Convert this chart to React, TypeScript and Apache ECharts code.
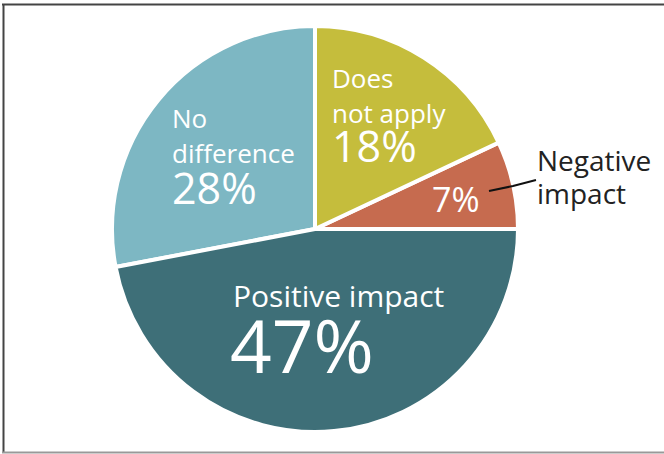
import React, { useEffect, useRef } from "react";
import * as echarts from "echarts";

const categories = ["Negative impact", "Does not apply", "No difference", "Positive impact"];
const values = [7, 18, 28, 47];
const colors = ["#c66b4f", "#c5bd3c", "#7db7c3", "#3e6f78"];
const nameLabels = ["", "Does\nnot apply", "No\ndifference", "Positive impact"];
const pctLabels = ["7%", "18%", "28%", "47%"];

const FONT = "'Open Sans', 'Noto Sans', sans-serif";

export default function App() {
  const ref = useRef<HTMLDivElement>(null);
  useEffect(() => {
    if (!ref.current) return;
    const chart = echarts.init(ref.current, undefined, { renderer: "svg" });
    const namePos: any[] = [
      { x: 432, y: 150 },
      { x: 332, y: 60 },
      { x: 172, y: 100 },
      { x: 233, y: 276 },
    ];
    const pctPos: any[] = [
      { x: 432, y: 182 },
      { x: 332, y: 124 },
      { x: 172, y: 166 },
      { x: 230, y: 308 },
    ];
    const pctSize = [34, 43, 43, 73];
    const base = {
      type: "pie",
      center: [315, 229],
      radius: 203,
      startAngle: 0,
      clockwise: false,
      silent: true,
      emphasis: { disabled: true },
    };
    chart.setOption({
      animation: false,
      backgroundColor: "#ffffff",
      graphic: [
        { type: "line", shape: { x1: 2, y1: 4.5, x2: 664, y2: 4.5 }, style: { stroke: "#444", lineWidth: 2 } },
        { type: "line", shape: { x1: 3.5, y1: 4, x2: 3.5, y2: 453 }, style: { stroke: "#444", lineWidth: 2 } },
        { type: "line", shape: { x1: 2, y1: 452.5, x2: 664, y2: 452.5 }, style: { stroke: "#999", lineWidth: 2 } },
      ],
      series: [
        {
          ...base,
          itemStyle: { borderColor: "#ffffff", borderWidth: 4 },
          label: {
            show: true,
            position: "inside",
            color: "#ffffff",
            fontFamily: FONT,
            fontSize: 26,
            lineHeight: 35,
            formatter: (p: any) => nameLabels[p.dataIndex],
          },
          labelLine: { show: false },
          labelLayout: (p: any) => ({ ...namePos[p.dataIndex], align: "left", verticalAlign: "top" }),
          data: categories.map((name, i) => ({
            name,
            value: values[i],
            itemStyle: { color: colors[i] },
            label: i === 3 ? { fontSize: 30, lineHeight: 38 } : { show: i !== 0 },
          })),
        },
        {
          ...base,
          z: 4,
          itemStyle: { color: "rgba(0,0,0,0)", borderWidth: 0 },
          label: {
            show: true,
            position: "inside",
            color: "#ffffff",
            fontFamily: FONT,
            formatter: (p: any) => pctLabels[p.dataIndex],
          },
          labelLine: { show: false },
          labelLayout: (p: any) => ({ ...pctPos[p.dataIndex], align: "left", verticalAlign: "top" }),
          data: categories.map((name, i) => ({
            name,
            value: values[i],
            label: { fontSize: pctSize[i], lineHeight: pctSize[i] },
          })),
        },
        {
          ...base,
          z: 5,
          itemStyle: { color: "rgba(0,0,0,0)", borderWidth: 0 },
          label: {
            show: true,
            position: "outside",
            color: "#222",
            fontFamily: FONT,
            fontSize: 28,
            lineHeight: 33,
            width: 130,
            overflow: "none",
            formatter: (p: any) => p.name.replace(" ", "\n"),
          },
          labelLine: { show: true, lineStyle: { color: "#111", width: 2 } },
          labelLayout: (p: any) =>
            p.dataIndex === 0
              ? {
                  x: 537,
                  y: 143,
                  align: "left",
                  verticalAlign: "top",
                  labelLinePoints: [[489, 191], [513, 186], [536, 180]],
                }
              : {},
          data: categories.map((name, i) => ({
            name,
            value: values[i],
            label: { show: i === 0 },
            labelLine: { show: i === 0 },
          })),
        },
      ],
    });
    return () => chart.dispose();
  }, []);
  return (
    <div
      ref={ref}
      style={{ position: "fixed", left: 0, top: 0, width: 664, height: 454 }}
    />
  );
}
